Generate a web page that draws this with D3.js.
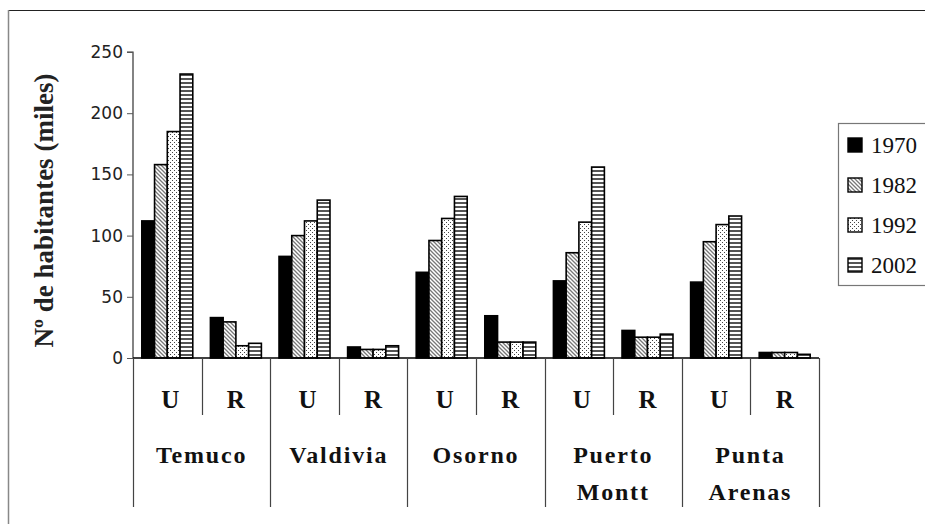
<!DOCTYPE html>
<html><head><meta charset="utf-8">
<script src="https://cdn.jsdelivr.net/npm/d3@7"></script>
<style>body{margin:0;background:#fff}svg{display:block}
.serif{font-family:"Liberation Serif","DejaVu Serif","Times New Roman",serif}</style>
</head><body>
<script>
const cities = [["Temuco"], ["Valdivia"], ["Osorno"], ["Puerto", "Montt"], ["Punta", "Arenas"]];
const areas = ["U", "R"];
const years = ["1970", "1982", "1992", "2002"];
const yTicks = [0, 50, 100, 150, 200, 250];
// order: Temuco U, Temuco R, Valdivia U, Valdivia R, Osorno U, Osorno R, P.Montt U, P.Montt R, P.Arenas U, P.Arenas R
const v1970 = [112, 33, 83, 9, 70, 34.5, 63, 22.5, 62, 4.5];
const v1982 = [158, 29.5, 100, 7, 96, 13, 86, 17, 95, 4.5];
const v1992 = [185, 10, 112, 7, 114, 13, 111, 17, 109, 4.5];
const v2002 = [232, 12, 129, 10, 132, 13, 156, 19.5, 116, 3];
const series = [v1970, v1982, v1992, v2002];

const W = 925, H = 524;
const svg = d3.select("body").append("svg").attr("width", W).attr("height", H);
const defs = svg.append("defs");

const p1 = defs.append("pattern").attr("id", "pat1982").attr("patternUnits", "userSpaceOnUse")
  .attr("width", 4).attr("height", 4);
p1.append("rect").attr("width", 4).attr("height", 4).attr("fill", "#fff");
p1.append("path").attr("d", "M-1,-1 L5,5 M-1,3 L1,5 M3,-1 L5,1").attr("stroke", "#777").attr("stroke-width", 1.3);

const p2 = defs.append("pattern").attr("id", "pat1992").attr("patternUnits", "userSpaceOnUse")
  .attr("width", 4).attr("height", 4);
p2.append("rect").attr("width", 4).attr("height", 4).attr("fill", "#fff");
p2.append("rect").attr("x", 0).attr("y", 0).attr("width", 1).attr("height", 1).attr("fill", "#444");
p2.append("rect").attr("x", 2).attr("y", 2).attr("width", 1).attr("height", 1).attr("fill", "#444");

const p3 = defs.append("pattern").attr("id", "pat2002").attr("patternUnits", "userSpaceOnUse")
  .attr("width", 4).attr("height", 4);
p3.append("rect").attr("width", 4).attr("height", 4).attr("fill", "#fff");
p3.append("rect").attr("x", 0).attr("y", 2).attr("width", 4).attr("height", 2).attr("fill", "#555");

const fills = ["#000", "url(#pat1982)", "url(#pat1992)", "url(#pat2002)"];

svg.append("line").attr("x1", 8).attr("x2", W).attr("y1", 10.5).attr("y2", 10.5).attr("stroke", "#222").attr("stroke-width", 1.2);
svg.append("line").attr("x1", 8.5).attr("x2", 8.5).attr("y1", 10).attr("y2", H).attr("stroke", "#888").attr("stroke-width", 1.5);

const plotL = 133, plotR = 819, plotBase = 358, plotTop = 52;
const keys = d3.range(cities.length * areas.length);
const xCat = d3.scaleBand().domain(keys).range([plotL, plotR]).paddingInner(0.257).paddingOuter(0.1285);
const xEdge = d3.scaleBand().domain(keys).range([plotL, plotR]);
const xSub = d3.scaleBand().domain(years).range([0, xCat.bandwidth()]);
const y = d3.scaleLinear().domain([0, 250]).range([plotBase, plotTop]);

const yAxis = d3.axisLeft(y).tickValues(yTicks).tickSize(6).tickPadding(4);
const gy = svg.append("g").attr("transform", `translate(${plotL},0)`).call(yAxis);
gy.select(".domain").attr("stroke", "#333").attr("stroke-width", 1.2).attr("d", `M-6,${plotTop}H0V${plotBase}`);
gy.selectAll(".tick line").attr("stroke", "#555");
gy.selectAll(".tick text").attr("font-family", "DejaVu Sans").attr("font-size", 17).attr("fill", "#222");

const title = svg.append("text").attr("class", "serif")
  .attr("transform", `translate(53,${(73 + 348) / 2}) rotate(-90)`)
  .attr("text-anchor", "middle").attr("font-weight", "bold")
  .attr("font-size", 22).attr("fill", "#222").text("Nº de habitantes (miles)");
const tl = title.node().getComputedTextLength();
title.attr("font-size", 22 * 274 / tl);

keys.forEach(k => {
  years.forEach((yr, j) => {
    const val = series[j][k];
    svg.append("rect")
      .attr("x", xCat(k) + xSub(yr))
      .attr("y", y(val))
      .attr("width", xSub.bandwidth())
      .attr("height", plotBase - y(val))
      .attr("fill", fills[j])
      .attr("stroke", "#000").attr("stroke-width", 1.6);
  });
});

svg.append("line").attr("x1", plotL).attr("x2", plotR).attr("y1", plotBase).attr("y2", plotBase).attr("stroke", "#000").attr("stroke-width", 1.4);

const labelBottom = 507, subBottom = 415;
keys.forEach(k => {
  const x0 = Math.round(xEdge(k)) + 0.5;
  svg.append("line").attr("x1", x0).attr("x2", x0).attr("y1", plotBase)
    .attr("y2", k % 2 === 0 ? labelBottom : subBottom).attr("stroke", "#444").attr("stroke-width", 1.2);
});
svg.append("line").attr("x1", plotR + 0.5).attr("x2", plotR + 0.5).attr("y1", plotBase).attr("y2", labelBottom)
  .attr("stroke", "#444").attr("stroke-width", 1.2);

keys.forEach(k => {
  svg.append("text").attr("class", "serif").attr("x", xEdge(k) + xEdge.bandwidth() / 2 + (k % 2 === 0 ? 3 : 0)).attr("y", 408)
    .attr("text-anchor", "middle").attr("font-weight", "bold")
    .attr("font-size", 25).attr("fill", "#111").text(areas[k % 2]);
});

cities.forEach((c, i) => {
  const cx = xEdge(i * 2) + xEdge.bandwidth();
  c.forEach((line, li) => {
    svg.append("text").attr("class", "serif").attr("x", cx).attr("y", 463 + li * 37)
      .attr("text-anchor", "middle").attr("font-weight", "bold")
      .attr("font-size", 24).attr("letter-spacing", 1.8).attr("fill", "#111").text(line);
  });
});

const lg = svg.append("g");
lg.append("rect").attr("x", 838.5).attr("y", 123.5).attr("width", 120).attr("height", 162)
  .attr("fill", "#fff").attr("stroke", "#777").attr("stroke-width", 1.2);
years.forEach((yr, j) => {
  const cy = 145 + j * 40;
  lg.append("rect").attr("x", 848).attr("y", cy - 7).attr("width", 14).attr("height", 14)
    .attr("fill", fills[j]).attr("stroke", "#000").attr("stroke-width", 1.4);
  lg.append("text").attr("class", "serif").attr("x", 871).attr("y", cy + 8)
    .attr("font-size", 23).attr("fill", "#111").text(yr);
});
</script>
</body></html>
